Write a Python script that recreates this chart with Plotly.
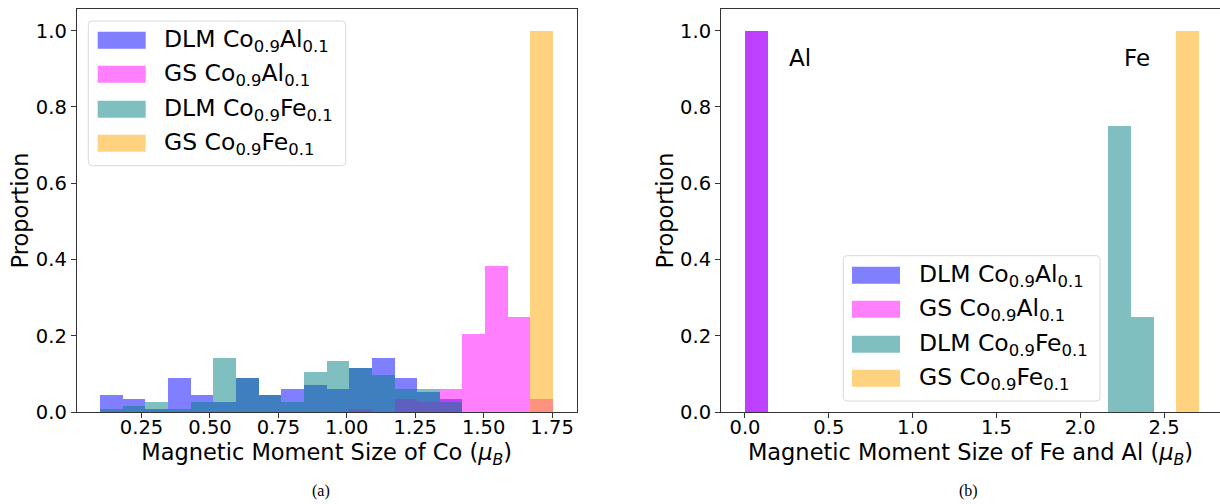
import plotly.graph_objects as go
from plotly.subplots import make_subplots

# ---------------- data ----------------
# (a) Co moment histogram: 20 common bins
co_bin_centers = [0.1392, 0.2219, 0.3046, 0.3873, 0.4700, 0.5528, 0.6355, 0.7182,
                  0.8009, 0.8836, 0.9664, 1.0491, 1.1318, 1.2145, 1.2972, 1.3800,
                  1.4627, 1.5454, 1.6281, 1.7108]
co_bin_width = 0.0827
dlm_coal_co = [0.045, 0.035, 0.009, 0.090, 0.045, 0.027, 0.090, 0.045, 0.061, 0.072,
               0.061, 0.116, 0.142, 0.090, 0.053, 0.035, 0, 0, 0, 0]
gs_coal_co = [0, 0, 0, 0, 0, 0, 0, 0, 0, 0,
              0, 0.008, 0, 0.035, 0.027, 0.061, 0.205, 0.383, 0.250, 0.035]
dlm_cofe_co = [0.009, 0.017, 0.027, 0.009, 0.027, 0.142, 0.090, 0.045, 0.027, 0.106,
               0.134, 0.116, 0.098, 0.061, 0.061, 0.027, 0, 0, 0, 0]
gs_cofe_co = [0, 0, 0, 0, 0, 0, 0, 0, 0, 0,
              0, 0, 0, 0, 0, 0, 0, 0, 0, 1.0]

# (b) Fe / Al moment histogram
feal_bin_width = 0.137
al_centers = [0.068]
dlm_coal_al = [1.0]
gs_coal_al = [1.0]
fe_dlm_centers = [2.2335, 2.3715]
dlm_cofe_fe = [0.75, 0.25]
fe_gs_centers = [2.6405]
gs_cofe_fe = [1.0]

labels = ["DLM Co<sub>0.9</sub>Al<sub>0.1</sub>", "GS Co<sub>0.9</sub>Al<sub>0.1</sub>",
          "DLM Co<sub>0.9</sub>Fe<sub>0.1</sub>", "GS Co<sub>0.9</sub>Fe<sub>0.1</sub>"]
colors = ["rgba(0,0,255,0.5)", "rgba(255,0,255,0.5)", "rgba(0,128,128,0.5)", "rgba(255,165,0,0.5)"]

# ---------------- figure ----------------
W, H = 1220, 504
MT, MB = 9, 92
FONT = "DejaVu Sans"

fig = make_subplots(rows=1, cols=2)

left_series = [(co_bin_centers, dlm_coal_co), (co_bin_centers, gs_coal_co),
               (co_bin_centers, dlm_cofe_co), (co_bin_centers, gs_cofe_co)]
for (xs, ys), lab, col in zip(left_series, labels, colors):
    fig.add_trace(go.Bar(x=xs, y=ys, width=co_bin_width, name=lab, marker_color=col,
                         marker_line_width=0, showlegend=False), row=1, col=1)

right_series = [(al_centers, dlm_coal_al), (al_centers, gs_coal_al),
                (fe_dlm_centers, dlm_cofe_fe), (fe_gs_centers, gs_cofe_fe)]
for (xs, ys), lab, col in zip(right_series, labels, colors):
    fig.add_trace(go.Bar(x=xs, y=ys, width=feal_bin_width, name=lab, marker_color=col,
                         marker_line_width=0, showlegend=False), row=1, col=2)

axis_common = dict(showline=True, linecolor="#333", linewidth=1,
                   ticks="outside", ticklen=5, tickcolor="#333", showgrid=False,
                   zeroline=False, tickfont=dict(family=FONT, size=19.5, color="black"))

fig.update_xaxes(domain=[76.7 / W, 576.7 / W], range=[0.013, 1.840], mirror=True,
                 tickvals=[0.25, 0.5, 0.75, 1.0, 1.25, 1.5, 1.75], tickformat=".2f",
                 ticklabelstandoff=-7,
                 title=dict(text="Magnetic Moment Size of Co (<i>μ</i><sub><i>B</i></sub>)",
                            font=dict(family=FONT, size=22.5, color="black"), standoff=5),
                 **axis_common, row=1, col=1)
# the right panel runs past the right edge of the picture (its right spine is cut off)
fig.update_xaxes(domain=[721 / W, 1.0], range=[-0.143, 2.834], mirror=True,
                 tickvals=[0, 0.5, 1.0, 1.5, 2.0, 2.5], tickformat=".1f",
                 ticklabelstandoff=-7,
                 title=dict(text="Magnetic Moment Size of Fe and Al (<i>μ</i><sub><i>B</i></sub>)",
                            font=dict(family=FONT, size=22.5, color="black"), standoff=5),
                 **axis_common, row=1, col=2)
for c in (1, 2):
    fig.update_yaxes(range=[0, 1.057], tickvals=[0, 0.2, 0.4, 0.6, 0.8, 1.0], tickformat=".1f",
                     mirror=(c == 1),
                     title=dict(text="Proportion", font=dict(family=FONT, size=22.5, color="black"),
                                standoff=0),
                     **axis_common, row=1, col=c)

fig.update_layout(width=W, height=H, barmode="overlay", bargap=0,
                  margin=dict(l=0, r=0, t=MT, b=MB, autoexpand=False),
                  plot_bgcolor="white", paper_bgcolor="white",
                  font=dict(family=FONT, color="black"))

# element labels in (b)
fig.add_annotation(x=0.25, y=0.928, xref="x2", yref="y2", text="Al", showarrow=False,
                   xanchor="left", yanchor="middle", font=dict(family=FONT, size=23, color="black"))
fig.add_annotation(x=2.25, y=0.928, xref="x2", yref="y2", text="Fe", showarrow=False,
                   xanchor="left", yanchor="middle", font=dict(family=FONT, size=23, color="black"))


# ---------------- manual legends (matplotlib style) ----------------
def px(x):
    return x / W


def py(y):
    return (H - MB - y) / (H - MT - MB)


def rounded_rect(x0, y0, x1, y1, r=4):
    pts = (f"M {px(x0 + r)},{py(y0)} L {px(x1 - r)},{py(y0)} Q {px(x1)},{py(y0)} {px(x1)},{py(y0 + r)} "
           f"L {px(x1)},{py(y1 - r)} Q {px(x1)},{py(y1)} {px(x1 - r)},{py(y1)} "
           f"L {px(x0 + r)},{py(y1)} Q {px(x0)},{py(y1)} {px(x0)},{py(y1 - r)} "
           f"L {px(x0)},{py(y0 + r)} Q {px(x0)},{py(y0)} {px(x0 + r)},{py(y0)} Z")
    return pts


def add_legend(box, patch_x, rows_y, text_x):
    fig.add_shape(type="path", path=rounded_rect(*box), xref="paper", yref="paper",
                  line=dict(color="#d9d9d9", width=1), fillcolor="rgba(255,255,255,0.8)")
    for yc, lab, col in zip(rows_y, labels, colors):
        fig.add_shape(type="rect", xref="paper", yref="paper",
                      x0=px(patch_x[0]), x1=px(patch_x[1]), y0=py(yc + 8.5), y1=py(yc - 8.5),
                      line_width=0, fillcolor=col)
        fig.add_annotation(x=px(text_x), y=py(yc), xref="paper", yref="paper", text=lab,
                           showarrow=False, xanchor="left", yanchor="middle",
                           font=dict(family=FONT, size=23.5, color="black"))


add_legend((88.3, 21, 345.7, 165.7), (97.7, 145.7), [40.3, 74.3, 109.3, 143.3], 162)
add_legend((843.3, 255.7, 1100, 401), (852, 900), [275.3, 309.3, 344.3, 378.3], 917)

# sub-figure captions
for cx, t in ((321, "(a)"), (968, "(b)")):
    fig.add_annotation(x=px(cx), y=py(491), xref="paper", yref="paper", text=t, showarrow=False,
                       xanchor="center", yanchor="middle",
                       font=dict(family="Liberation Serif", size=16, color="black"))

fig.write_html("out.html", config={"displayModeBar": False},
               post_script="document.body.style.margin='0';document.body.style.overflow='hidden';")
